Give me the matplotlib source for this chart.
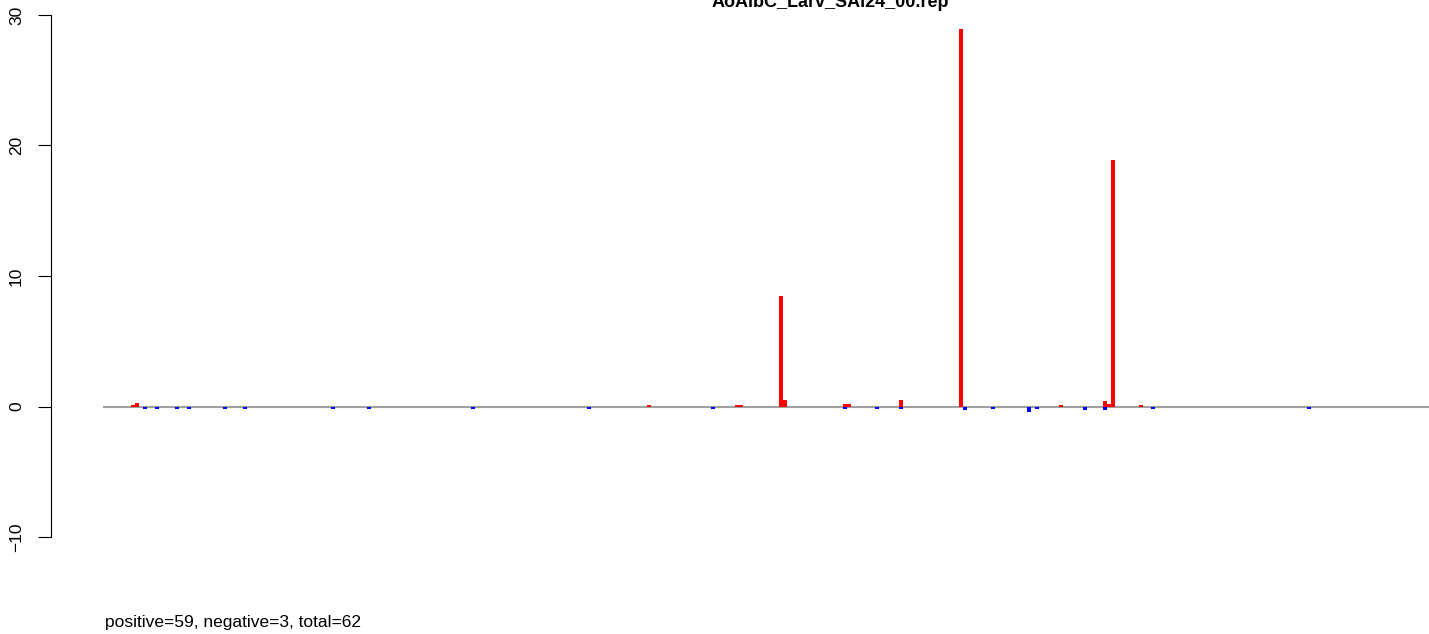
import matplotlib
matplotlib.use("Agg")
import matplotlib.pyplot as plt

plt.rcParams['font.family'] = ['Liberation Sans', 'DejaVu Sans']
plt.rcParams['axes.unicode_minus'] = True

title = "AoAlbC_Larv_SAi24_00.rep"
summary = "positive=59, negative=3, total=62"

# slot index of each bar and its value
pos_idx = [7, 8, 136, 158, 159, 169, 170, 185, 186, 199, 214, 239, 250, 251, 252, 259]
pos_val = [0.15, 0.25, 0.15, 0.15, 0.15, 8.5, 0.5, 0.2, 0.2, 0.5, 28.9, 0.15, 0.45, 0.2, 18.9, 0.15]
neg_idx = [10, 13, 18, 21, 30, 35, 57, 66, 92, 121, 152, 185, 193, 199, 215, 222, 231, 233, 245, 250, 262, 301]
neg_val = [-0.2, -0.2, -0.2, -0.2, -0.2, -0.2, -0.2, -0.2, -0.2, -0.2, -0.2,
           -0.2, -0.2, -0.2, -0.25, -0.2, -0.45, -0.2, -0.25, -0.25, -0.2, -0.2]
yticks = [-10, 0, 10, 20, 30]

W, H = 1429, 634
fig = plt.figure(figsize=(W / 100, H / 100), dpi=100)

# plot region in pixels (runs past the right and top edges, like the source)
left_px, right_px = 51, 1653
top_px, bot_px = -5.9, 557.9
ax = fig.add_axes([left_px / W, (H - bot_px) / H, (right_px - left_px) / W, (bot_px - top_px) / H])

ax.hlines(0, 0, 400, color='#A0A0A0', lw=1.5, zorder=1)
ax.bar(pos_idx, pos_val, width=1, align='edge', color='#FF0000', linewidth=0, zorder=2)
ax.bar(neg_idx, neg_val, width=1, align='edge', color='#0000FF', linewidth=0, zorder=2)

ax.set_xlim(-13, 387.5)
ax.set_ylim(-11.6, 31.6)

for s in ['top', 'right', 'bottom']:
    ax.spines[s].set_visible(False)
ax.spines['left'].set_bounds(-10, 30)
ax.spines['left'].set_linewidth(0.8)
ax.set_xticks([])
ax.set_yticks(yticks)
ax.set_yticklabels([str(t).replace('-', '\u2212') for t in yticks],
                   rotation=90, va='center', fontsize=12.5)
ax.tick_params(axis='y', length=9.4, width=0.8, pad=10)

fig.text(830 / W, 1 - 7 / H, title, ha='center', va='baseline', fontsize=13, fontweight='bold')
fig.text(105 / W, 1 - 622 / H, summary, ha='left', va='center', fontsize=12.5)

fig.savefig('out.png', dpi=100)
